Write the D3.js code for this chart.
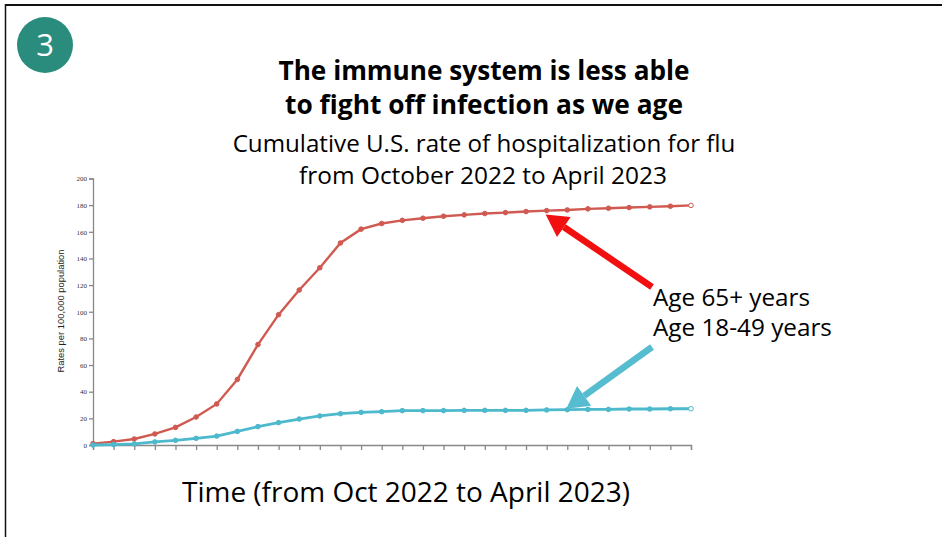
<!DOCTYPE html>
<html>
<head>
<meta charset="utf-8">
<script src="https://cdn.jsdelivr.net/npm/d3@7"></script>
<style>
  body { margin: 0; background: #fff; }
  svg { display: block; }
  .axis path, .axis line { stroke: #888; stroke-width: 1.3; }
  .axis text { font-family: 'Liberation Serif', serif; font-size: 7px; fill: #333; }
</style>
</head>
<body>
<div id="chart"></div>
<script>
// weekly points, MMWR week 40 of 2022 through week 17 of 2023
const weeks = [
  '2022-W40', '2022-W41', '2022-W42', '2022-W43', '2022-W44', '2022-W45', '2022-W46',
  '2022-W47', '2022-W48', '2022-W49', '2022-W50', '2022-W51', '2022-W52',
  '2023-W01', '2023-W02', '2023-W03', '2023-W04', '2023-W05', '2023-W06', '2023-W07',
  '2023-W08', '2023-W09', '2023-W10', '2023-W11', '2023-W12', '2023-W13', '2023-W14',
  '2023-W15', '2023-W16', '2023-W17'
];
const age65plus = [1, 2.5, 4.5, 8.3, 13.2, 21, 30.8, 49.2, 75.4, 97.8, 116.3, 133, 151.6, 162, 166.2,
  168.6, 170.2, 171.7, 172.7, 173.7, 174.4, 175.2, 175.9, 176.4, 177.2, 177.7, 178.2, 178.7, 179.2, 179.8];
const age18to49 = [0, 0.3, 0.8, 2.3, 3.5, 5, 6.7, 10.2, 13.8, 16.8, 19.5, 21.8, 23.5, 24.5, 25,
  25.8, 25.8, 25.8, 26, 26, 26, 26, 26.3, 26.5, 26.7, 26.7, 27, 27, 27.2, 27.2];
const yTicks = [0, 20, 40, 60, 80, 100, 120, 140, 160, 180, 200];

const width = 942, height = 537;
const font = "'Open Sans', sans-serif";

const svg = d3.select('#chart').append('svg')
  .attr('width', width)
  .attr('height', height);

// slide frame (top and left edges only)
svg.append('line').attr('x1', 5).attr('x2', width).attr('y1', 5).attr('y2', 5)
  .attr('stroke', '#111').attr('stroke-width', 2);
svg.append('line').attr('x1', 5.5).attr('x2', 5.5).attr('y1', 4).attr('y2', height)
  .attr('stroke', '#111').attr('stroke-width', 1.5);

// numbered badge
svg.append('circle').attr('cx', 45).attr('cy', 45).attr('r', 28).attr('fill', '#2a8c7d');
svg.append('text').attr('x', 45).attr('y', 56)
  .attr('text-anchor', 'middle').attr('fill', '#fff')
  .style('font-family', font).style('font-size', '31px')
  .text('3');

// helper: draw text and shrink/grow it to the width it has on the slide
function fitText(x, y, str, size, targetWidth, weight, anchor) {
  const t = svg.append('text')
    .attr('x', x).attr('y', y)
    .attr('text-anchor', anchor || 'middle')
    .attr('fill', '#000')
    .style('font-family', font)
    .style('font-weight', weight || 'normal')
    .style('font-size', size + 'px')
    .text(str);
  const w = t.node().getComputedTextLength();
  if (w > 0) t.style('font-size', (size * targetWidth / w).toFixed(2) + 'px');
  return t;
}

fitText(484, 80, 'The immune system is less able', 24, 411, 'bold');
fitText(484, 114, 'to fight off infection as we age', 24, 398, 'bold');
fitText(484, 152, 'Cumulative U.S. rate of hospitalization for flu', 21, 503);
fitText(483, 184, 'from October 2022 to April 2023', 21, 368);

// chart area
const x = d3.scalePoint().domain(weeks).range([93, 691]);
const y = d3.scaleLinear().domain([0, 200]).range([445, 178.5]);

svg.append('g')
  .attr('class', 'axis')
  .attr('transform', 'translate(0,445)')
  .call(d3.axisBottom(x).tickSize(5).tickFormat(''));

svg.append('g')
  .attr('class', 'axis')
  .attr('transform', 'translate(93,0)')
  .call(d3.axisLeft(y).tickValues(yTicks).tickSize(4).tickPadding(2));

svg.append('text')
  .attr('transform', 'translate(64,311) rotate(-90)')
  .attr('text-anchor', 'middle')
  .style('font-family', "'Liberation Sans', Arial, sans-serif")
  .style('font-size', '9.4px')
  .attr('fill', '#222')
  .text('Rates per 100,000 population');

const series = [
  { name: 'Age 65+ years', values: age65plus, color: '#d05a51', width: 2.4 },
  { name: 'Age 18-49 years', values: age18to49, color: '#4db9cc', width: 2.8 }
];

const line = d3.line()
  .x((d, i) => x(weeks[i]))
  .y(d => y(d));

series.forEach(s => {
  svg.append('path')
    .datum(s.values)
    .attr('fill', 'none')
    .attr('stroke', s.color)
    .attr('stroke-width', s.width)
    .attr('d', line);
  svg.selectAll(null)
    .data(s.values)
    .enter()
    .append('circle')
    .attr('cx', (d, i) => x(weeks[i]))
    .attr('cy', d => y(d))
    .attr('r', 2.3)
    .attr('fill', (d, i) => i === s.values.length - 1 ? '#fff' : s.color)
    .attr('stroke', s.color)
    .attr('stroke-width', 1);
});

// callout arrows
function arrow(x1, y1, x2, y2, color, w, head) {
  const ang = Math.atan2(y2 - y1, x2 - x1);
  const bx = x2 - head * Math.cos(ang), by = y2 - head * Math.sin(ang);
  svg.append('line')
    .attr('x1', x1).attr('y1', y1).attr('x2', bx).attr('y2', by)
    .attr('stroke', color).attr('stroke-width', w);
  const hw = head * 0.55;
  const px = -Math.sin(ang) * hw, py = Math.cos(ang) * hw;
  svg.append('polygon')
    .attr('points', [[x2, y2], [bx + px, by + py], [bx - px, by - py]].map(p => p.join(',')).join(' '))
    .attr('fill', color);
}
arrow(652, 287, x(weeks[22]) - 1, y(age65plus[22]) + 4, '#f20f0f', 6.5, 22);
arrow(652, 347, x(weeks[23]) - 1, y(age18to49[23]) - 1, '#56bccf', 6.5, 22);

fitText(653, 306, series[0].name, 21, 157, 'normal', 'start');
fitText(653, 336, series[1].name, 21, 179, 'normal', 'start');

fitText(406, 502, 'Time (from Oct 2022 to April 2023)', 24, 448);
</script>
</body>
</html>
